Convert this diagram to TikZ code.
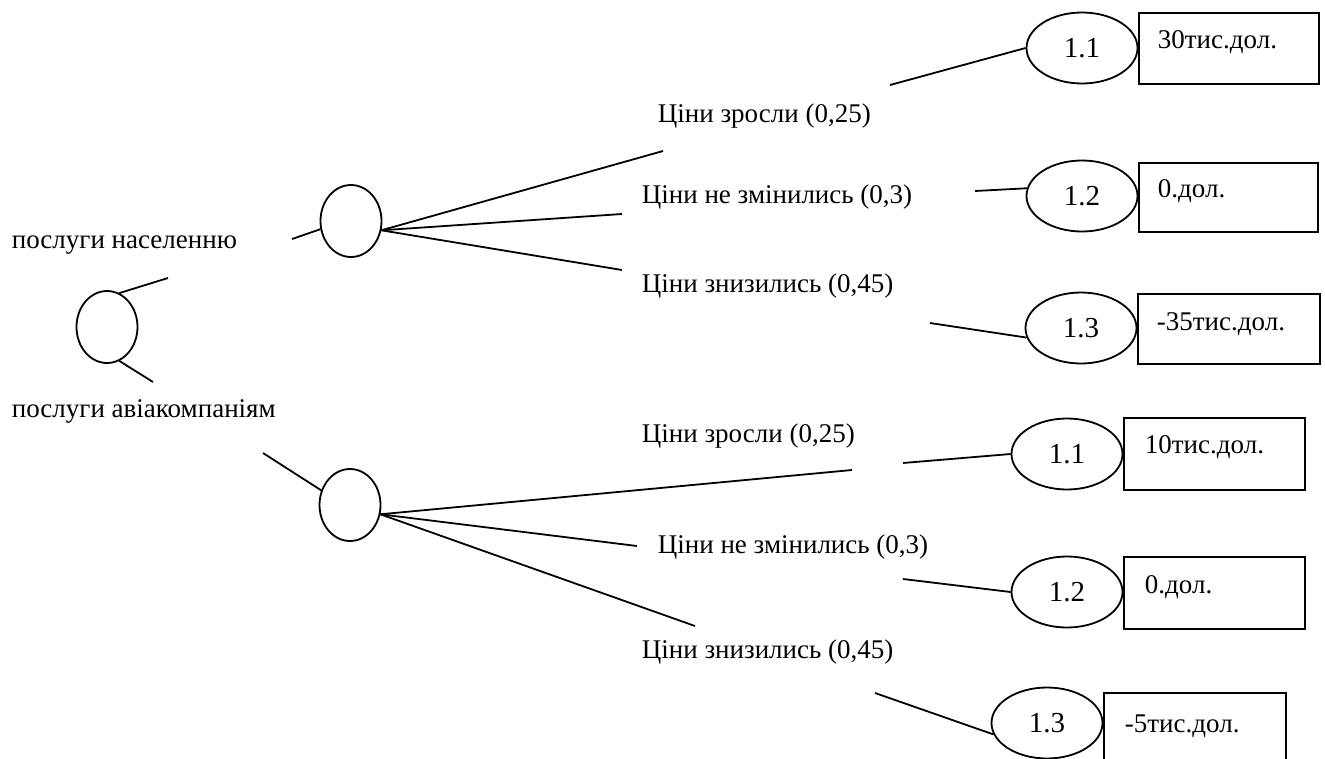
\documentclass[tikz,border=0pt]{standalone}
\usepackage{fontspec}
\setmainfont{Liberation Serif}
\newfontfamily\treefont{Liberation Serif}
\usetikzlibrary{shapes.geometric}
\begin{document}
\begin{tikzpicture}[x=1pt,y=-1pt,line width=1.8pt,
  chance/.style={draw,ellipse,minimum width=61pt,minimum height=72pt,inner sep=0pt},
  outc/.style={draw,ellipse,minimum width=111pt,minimum height=71pt,inner sep=0pt,
    font=\treefont\fontsize{29}{33}\selectfont},
  payoff/.style={draw,rectangle,anchor=north west,inner sep=0pt},
  lbl/.style={anchor=base west,inner sep=0pt,font=\treefont\fontsize{27}{31}\selectfont}]
\clip (0,0) rectangle (1325,758);

% decision node and the two chance nodes
\node[chance] (root) at (107,327) {};
\node[chance] (up) at (351,221) {};
\node[chance] (dn) at (350,505) {};

% alternatives
\node[lbl] (alt1) at (11,248) {послуги населенню};
\node[lbl] (alt2) at (11,417) {послуги авіакомпаніям};

\coordinate (r1) at (168,278);
\coordinate (r2) at (153,382);
\coordinate (u0) at (292,239);
\coordinate (d0) at (263,453);
\draw (root.70) -- (r1);
\draw (root.-70) -- (r2);
\draw (u0) -- (up.195);
\draw (d0) -- (dn.153);

% price scenarios, first alternative
\coordinate (ua) at (663,151);
\coordinate (ub) at (622,214);
\coordinate (uc) at (622,270);
\draw (up.-17) -- (ua);
\draw (up.-17) -- (ub);
\draw (up.-17) -- (uc);
\node[lbl] (s1) at (657,122) {Ціни зросли (0,25)};
\node[lbl] (s2) at (641,203) {Ціни не змінились (0,3)};
\node[lbl] (s3) at (641,292) {Ціни знизились (0,45)};

% price scenarios, second alternative
\coordinate (da) at (852,470);
\coordinate (db) at (637,546);
\coordinate (dc) at (695,626);
\draw (dn.-17) -- (da);
\draw (dn.-17) -- (db);
\draw (dn.-17) -- (dc);
\node[lbl] (s4) at (641,442) {Ціни зросли (0,25)};
\node[lbl] (s5) at (657,553) {Ціни не змінились (0,3)};
\node[lbl] (s6) at (641,658) {Ціни знизились (0,45)};

% outcomes, first alternative
\node[outc] (o11) at (1082,48) {1.1};
\node[outc] (o12) at (1082,196) {1.2};
\node[outc] (o13) at (1081,328) {1.3};
\coordinate (a1) at (890,85);
\coordinate (a2) at (975,191);
\coordinate (a3) at (930,323);
\draw (a1) -- (o11.west);
\draw (a2) -- (o12.172);
\draw (a3) -- (o13.190);
\node[payoff,minimum width=180pt,minimum height=71pt] (v11) at (1138,12) {};
\node[payoff,minimum width=179pt,minimum height=69pt] (v12) at (1138,162) {};
\node[payoff,minimum width=182pt,minimum height=70pt] (v13) at (1137,293) {};
\node[lbl] (w11) at (1157,48) {30тис.дол.};
\node[lbl] (w12) at (1157,197) {0.дол.};
\node[lbl] (w13) at (1156,330) {-35тис.дол.};

% outcomes, second alternative
\node[outc] (p11) at (1067,454) {1.1};
\node[outc] (p12) at (1067,592) {1.2};
\node[outc] (p13) at (1047,723) {1.3};
\coordinate (b1) at (903,463);
\coordinate (b2) at (903,579);
\coordinate (b3) at (875,693);
\draw (b1) -- (p11.west);
\draw (b2) -- (p12.west);
\draw (b3) -- (p13.192);
\node[payoff,minimum width=181pt,minimum height=72pt] (x11) at (1123,417) {};
\node[payoff,minimum width=181pt,minimum height=72pt] (x12) at (1123,556) {};
\node[payoff,minimum width=182pt,minimum height=100pt] (x13) at (1103,692) {};
\node[lbl] (y11) at (1144,453) {10тис.дол.};
\node[lbl] (y12) at (1144,593) {0.дол.};
\node[lbl] (y13) at (1124,732) {-5тис.дол.};
\end{tikzpicture}
\end{document}
